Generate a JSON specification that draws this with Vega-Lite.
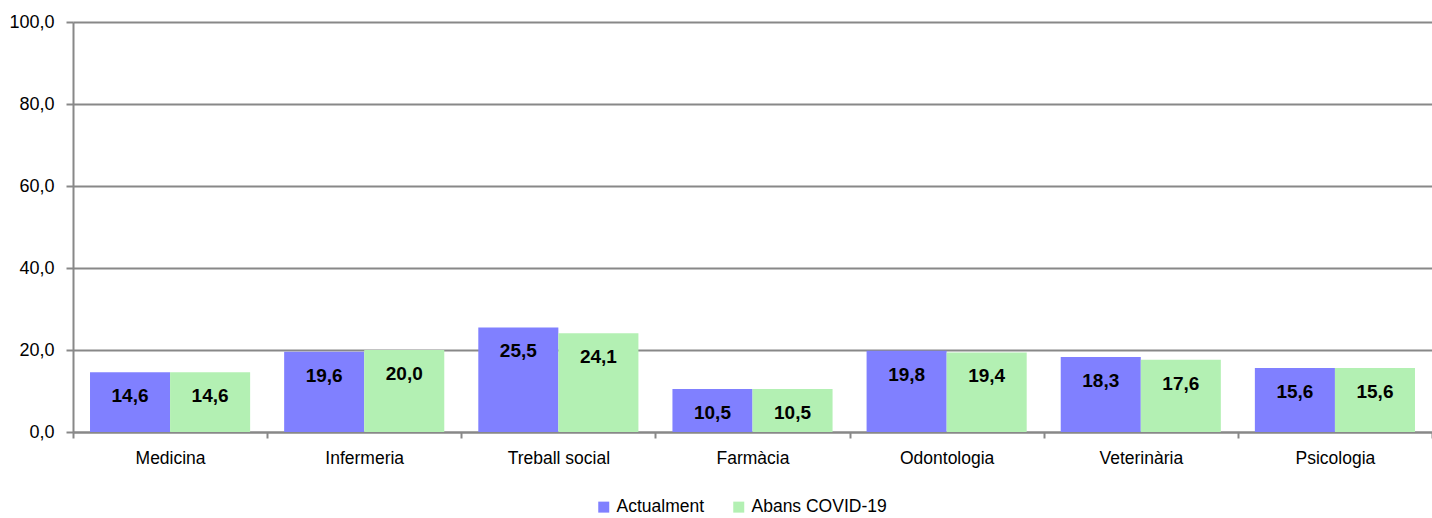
{
  "$schema": "https://vega.github.io/schema/vega-lite/v6.json",
  "width": 1359,
  "height": 410,
  "autosize": {"type": "none"},
  "padding": {"left": 73, "top": 22, "right": 0, "bottom": 86},
  "background": "white",
  "config": {
    "locale": {"number": {"decimal": ",", "thousands": ".", "grouping": [3], "currency": ["", " €"]}},
    "font": "Liberation Sans Narrow, Arial Narrow, Liberation Sans, Arial, sans-serif",
    "view": {"stroke": null}
  },
  "data": {
    "values": [
      {"cat": "Medicina", "serie": "Actualment", "v": 14.6},
      {"cat": "Medicina", "serie": "Abans COVID-19", "v": 14.6},
      {"cat": "Infermeria", "serie": "Actualment", "v": 19.6},
      {"cat": "Infermeria", "serie": "Abans COVID-19", "v": 20.0},
      {"cat": "Treball social", "serie": "Actualment", "v": 25.5},
      {"cat": "Treball social", "serie": "Abans COVID-19", "v": 24.1},
      {"cat": "Farmàcia", "serie": "Actualment", "v": 10.5},
      {"cat": "Farmàcia", "serie": "Abans COVID-19", "v": 10.5},
      {"cat": "Odontologia", "serie": "Actualment", "v": 19.8},
      {"cat": "Odontologia", "serie": "Abans COVID-19", "v": 19.4},
      {"cat": "Veterinària", "serie": "Actualment", "v": 18.3},
      {"cat": "Veterinària", "serie": "Abans COVID-19", "v": 17.6},
      {"cat": "Psicologia", "serie": "Actualment", "v": 15.6},
      {"cat": "Psicologia", "serie": "Abans COVID-19", "v": 15.6}
    ]
  },
  "encoding": {
    "x": {
      "field": "cat", "type": "nominal", "sort": null,
      "scale": {"paddingInner": 0, "paddingOuter": 0},
      "axis": {
        "title": null, "labelAngle": 0, "labelFontSize": 17.5, "labelColor": "#000",
        "labelPadding": 11, "domainColor": "#888", "domainWidth": 2,
        "tickColor": "#888", "tickWidth": 2, "tickSize": 6, "tickBand": "extent",
        "grid": false
      }
    },
    "xOffset": {
      "field": "serie", "type": "nominal", "sort": ["Actualment", "Abans COVID-19"],
      "scale": {"paddingInner": 0, "paddingOuter": 0.2125}
    },
    "y": {
      "field": "v", "type": "quantitative",
      "scale": {"domain": [0, 100], "nice": false},
      "axis": {
        "title": null, "values": [0, 20, 40, 60, 80, 100], "format": ".1f",
        "labelFontSize": 18, "labelColor": "#000", "labelPadding": 12,
        "domainColor": "#888", "domainWidth": 2, "tickColor": "#888", "tickWidth": 2, "tickSize": 7,
        "gridColor": "#888", "gridWidth": 2
      }
    }
  },
  "layer": [
    {
      "mark": {"type": "bar"},
      "encoding": {
        "color": {
          "field": "serie", "type": "nominal",
          "sort": ["Actualment", "Abans COVID-19"],
          "scale": {"domain": ["Actualment", "Abans COVID-19"], "range": ["#8080FF", "#B3F0B3"]},
          "legend": {
            "title": null, "orient": "none", "direction": "horizontal",
            "legendX": 522, "legendY": 476,
            "symbolType": "square", "symbolSize": 121, "symbolStrokeWidth": 0,
            "labelFontSize": 17.5, "labelColor": "#000", "labelOffset": 4, "columnPadding": 25
          }
        }
      }
    },
    {
      "mark": {"type": "text", "baseline": "top", "dy": 15, "fontSize": 19, "fontWeight": "bold", "color": "#000"},
      "encoding": {
        "text": {"field": "v", "type": "quantitative", "format": ".1f"}
      }
    }
  ]
}
